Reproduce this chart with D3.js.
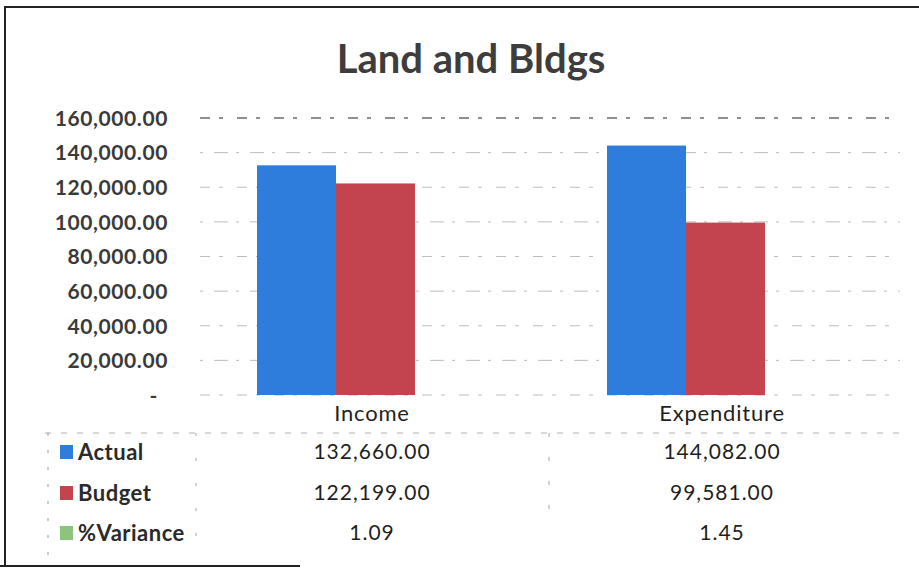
<!DOCTYPE html>
<html>
<head>
<meta charset="utf-8">
<script src="https://cdn.jsdelivr.net/npm/d3@7"></script>
<style>
  body { margin: 0; background: #fff; }
  text { font-family: Lato, "Open Sans", sans-serif; }
</style>
</head>
<body>
<div id="chart"></div>
<script>
var categories = ["Income", "Expenditure"];
var seriesNames = ["Actual", "Budget", "%Variance"];
var actual = [132660, 144082];
var budget = [122199, 99581];
var variance = [1.09, 1.45];
var yTicks = [0, 20000, 40000, 60000, 80000, 100000, 120000, 140000, 160000];

var W = 919, H = 568;
var margin = {top: 118, right: 19, bottom: 173, left: 200};

var colors = d3.scaleOrdinal().domain(seriesNames)
  .range(["#2e7ddc", "#c3434f", "#8cc47c"]);

var svg = d3.select("#chart").append("svg")
  .attr("width", W)
  .attr("height", H);

// outer frame (scanned border)
svg.append("line").attr("x1", 5).attr("x2", 5).attr("y1", 6).attr("y2", 566)
  .attr("stroke", "#222").attr("stroke-width", 2);
svg.append("line").attr("x1", 5).attr("x2", 919).attr("y1", 7).attr("y2", 7)
  .attr("stroke", "#222").attr("stroke-width", 2);
svg.append("line").attr("x1", 0).attr("x2", 300).attr("y1", 566).attr("y2", 566)
  .attr("stroke", "#222").attr("stroke-width", 2);

// title
svg.append("text")
  .attr("x", 471)
  .attr("y", 73)
  .attr("text-anchor", "middle")
  .style("font-size", "40px")
  .style("font-weight", "bold")
  .style("fill", "#3d3d3d")
  .text("Land and Bldgs");

var y = d3.scaleLinear().domain([0, 160000]).range([395, 118]);

var x0 = d3.scaleBand().domain(categories).range([margin.left, W - margin.right]);
var x1 = d3.scaleBand().domain(["Actual", "Budget"]).range([0, 158]);

// gridlines
var grid = svg.append("g").attr("class", "grid");
grid.selectAll("line")
  .data(yTicks)
  .enter()
  .append("line")
    .attr("x1", margin.left)
    .attr("x2", W - margin.right)
    .attr("y1", function(d) { return y(d); })
    .attr("y2", function(d) { return y(d); })
    .attr("stroke", "#444")
    .attr("stroke-width", function(d) { return d === 160000 ? 1.5 : 1; })
    .attr("stroke-dasharray", function(d, i) { return i % 2 ? "3,11,14,8" : "10,9,4,14"; })
    .attr("opacity", function(d) { return d === 160000 ? 0.8 : 0.35; });

// y axis labels
var yAxis = d3.axisLeft(y)
  .tickValues(yTicks)
  .tickSize(0)
  .tickPadding(0)
  .tickFormat(function(d) { return d === 0 ? "-" : d3.format(",.2f")(d); });

var yg = svg.append("g")
  .attr("transform", "translate(168,0)")
  .call(yAxis);
yg.select(".domain").remove();
yg.selectAll("text")
  .style("font-family", "Lato, 'Open Sans', sans-serif")
  .style("font-size", "21px")
  .style("font-weight", "bold")
  .style("letter-spacing", "0.6px")
  .style("fill", "#3a3a3a")
  .attr("dy", "0.35em");
yg.selectAll("text").filter(function(d) { return d === 0; })
  .attr("x", -10);

// bars
var barData = categories.map(function(c, i) {
  return {cat: c, values: [{name: "Actual", v: actual[i]}, {name: "Budget", v: budget[i]}]};
});

var groups = svg.selectAll(".cat")
  .data(barData)
  .enter()
  .append("g")
    .attr("class", "cat")
    .attr("transform", function(d) {
      return "translate(" + (x0(d.cat) + x0.bandwidth() / 2 - 118) + ",0)";
    });

groups.selectAll("rect")
  .data(function(d) { return d.values; })
  .enter()
  .append("rect")
    .attr("x", function(d) { return x1(d.name); })
    .attr("width", x1.bandwidth())
    .attr("y", function(d) { return y(d.v); })
    .attr("height", function(d) { return y(0) - y(d.v); })
    .attr("fill", function(d) { return colors(d.name); });

// data table
var rowY = {cat: 413, rows: [452, 493, 533]};
var table = svg.append("g").attr("class", "table");

table.append("line")
  .attr("x1", 45).attr("x2", 900).attr("y1", 433).attr("y2", 433)
  .attr("stroke", "#555").attr("stroke-dasharray", "6,10").attr("opacity", 0.45);
table.append("line")
  .attr("x1", 48).attr("x2", 48).attr("y1", 433).attr("y2", 555)
  .attr("stroke", "#555").attr("stroke-dasharray", "3,14").attr("opacity", 0.6);
table.append("line")
  .attr("x1", 196).attr("x2", 196).attr("y1", 433).attr("y2", 555)
  .attr("stroke", "#555").attr("stroke-dasharray", "3,22").attr("opacity", 0.5);
table.append("line")
  .attr("x1", 549).attr("x2", 549).attr("y1", 433).attr("y2", 520)
  .attr("stroke", "#555").attr("stroke-dasharray", "4,20").attr("opacity", 0.5);

table.selectAll(".catLabel")
  .data(categories)
  .enter()
  .append("text")
    .attr("class", "catLabel")
    .attr("x", function(d) { return x0(d) + x0.bandwidth() / 2 - 3; })
    .attr("y", rowY.cat)
    .attr("dy", "0.35em")
    .attr("text-anchor", "middle")
    .style("font-size", "22px")
    .style("letter-spacing", "0.8px")
    .style("fill", "#1f1f1f")
    .text(function(d) { return d; });

var tableRows = [
  {name: "Actual", vals: actual, fmt: d3.format(",.2f")},
  {name: "Budget", vals: budget, fmt: d3.format(",.2f")},
  {name: "%Variance", vals: variance, fmt: d3.format(".2f")}
];

var rows = table.selectAll(".row")
  .data(tableRows)
  .enter()
  .append("g")
    .attr("class", "row")
    .attr("transform", function(d, i) { return "translate(0," + rowY.rows[i] + ")"; });

rows.append("rect")
  .attr("x", 60)
  .attr("y", -7)
  .attr("width", 13)
  .attr("height", 14)
  .attr("fill", function(d) { return colors(d.name); });

rows.append("text")
  .attr("x", 78)
  .attr("dy", "0.35em")
  .style("font-size", "22px")
  .style("font-weight", "bold")
  .style("letter-spacing", "0.5px")
  .style("fill", "#2a2a2a")
  .text(function(d) { return d.name; });

rows.selectAll(".val")
  .data(function(d) {
    return categories.map(function(c, i) { return {cat: c, text: d.fmt(d.vals[i])}; });
  })
  .enter()
  .append("text")
    .attr("class", "val")
    .attr("x", function(d) { return x0(d.cat) + x0.bandwidth() / 2 - 3; })
    .attr("dy", "0.35em")
    .attr("text-anchor", "middle")
    .style("font-size", "21px")
    .style("letter-spacing", "1px")
    .style("fill", "#1f1f1f")
    .text(function(d) { return d.text; });
</script>
</body>
</html>
